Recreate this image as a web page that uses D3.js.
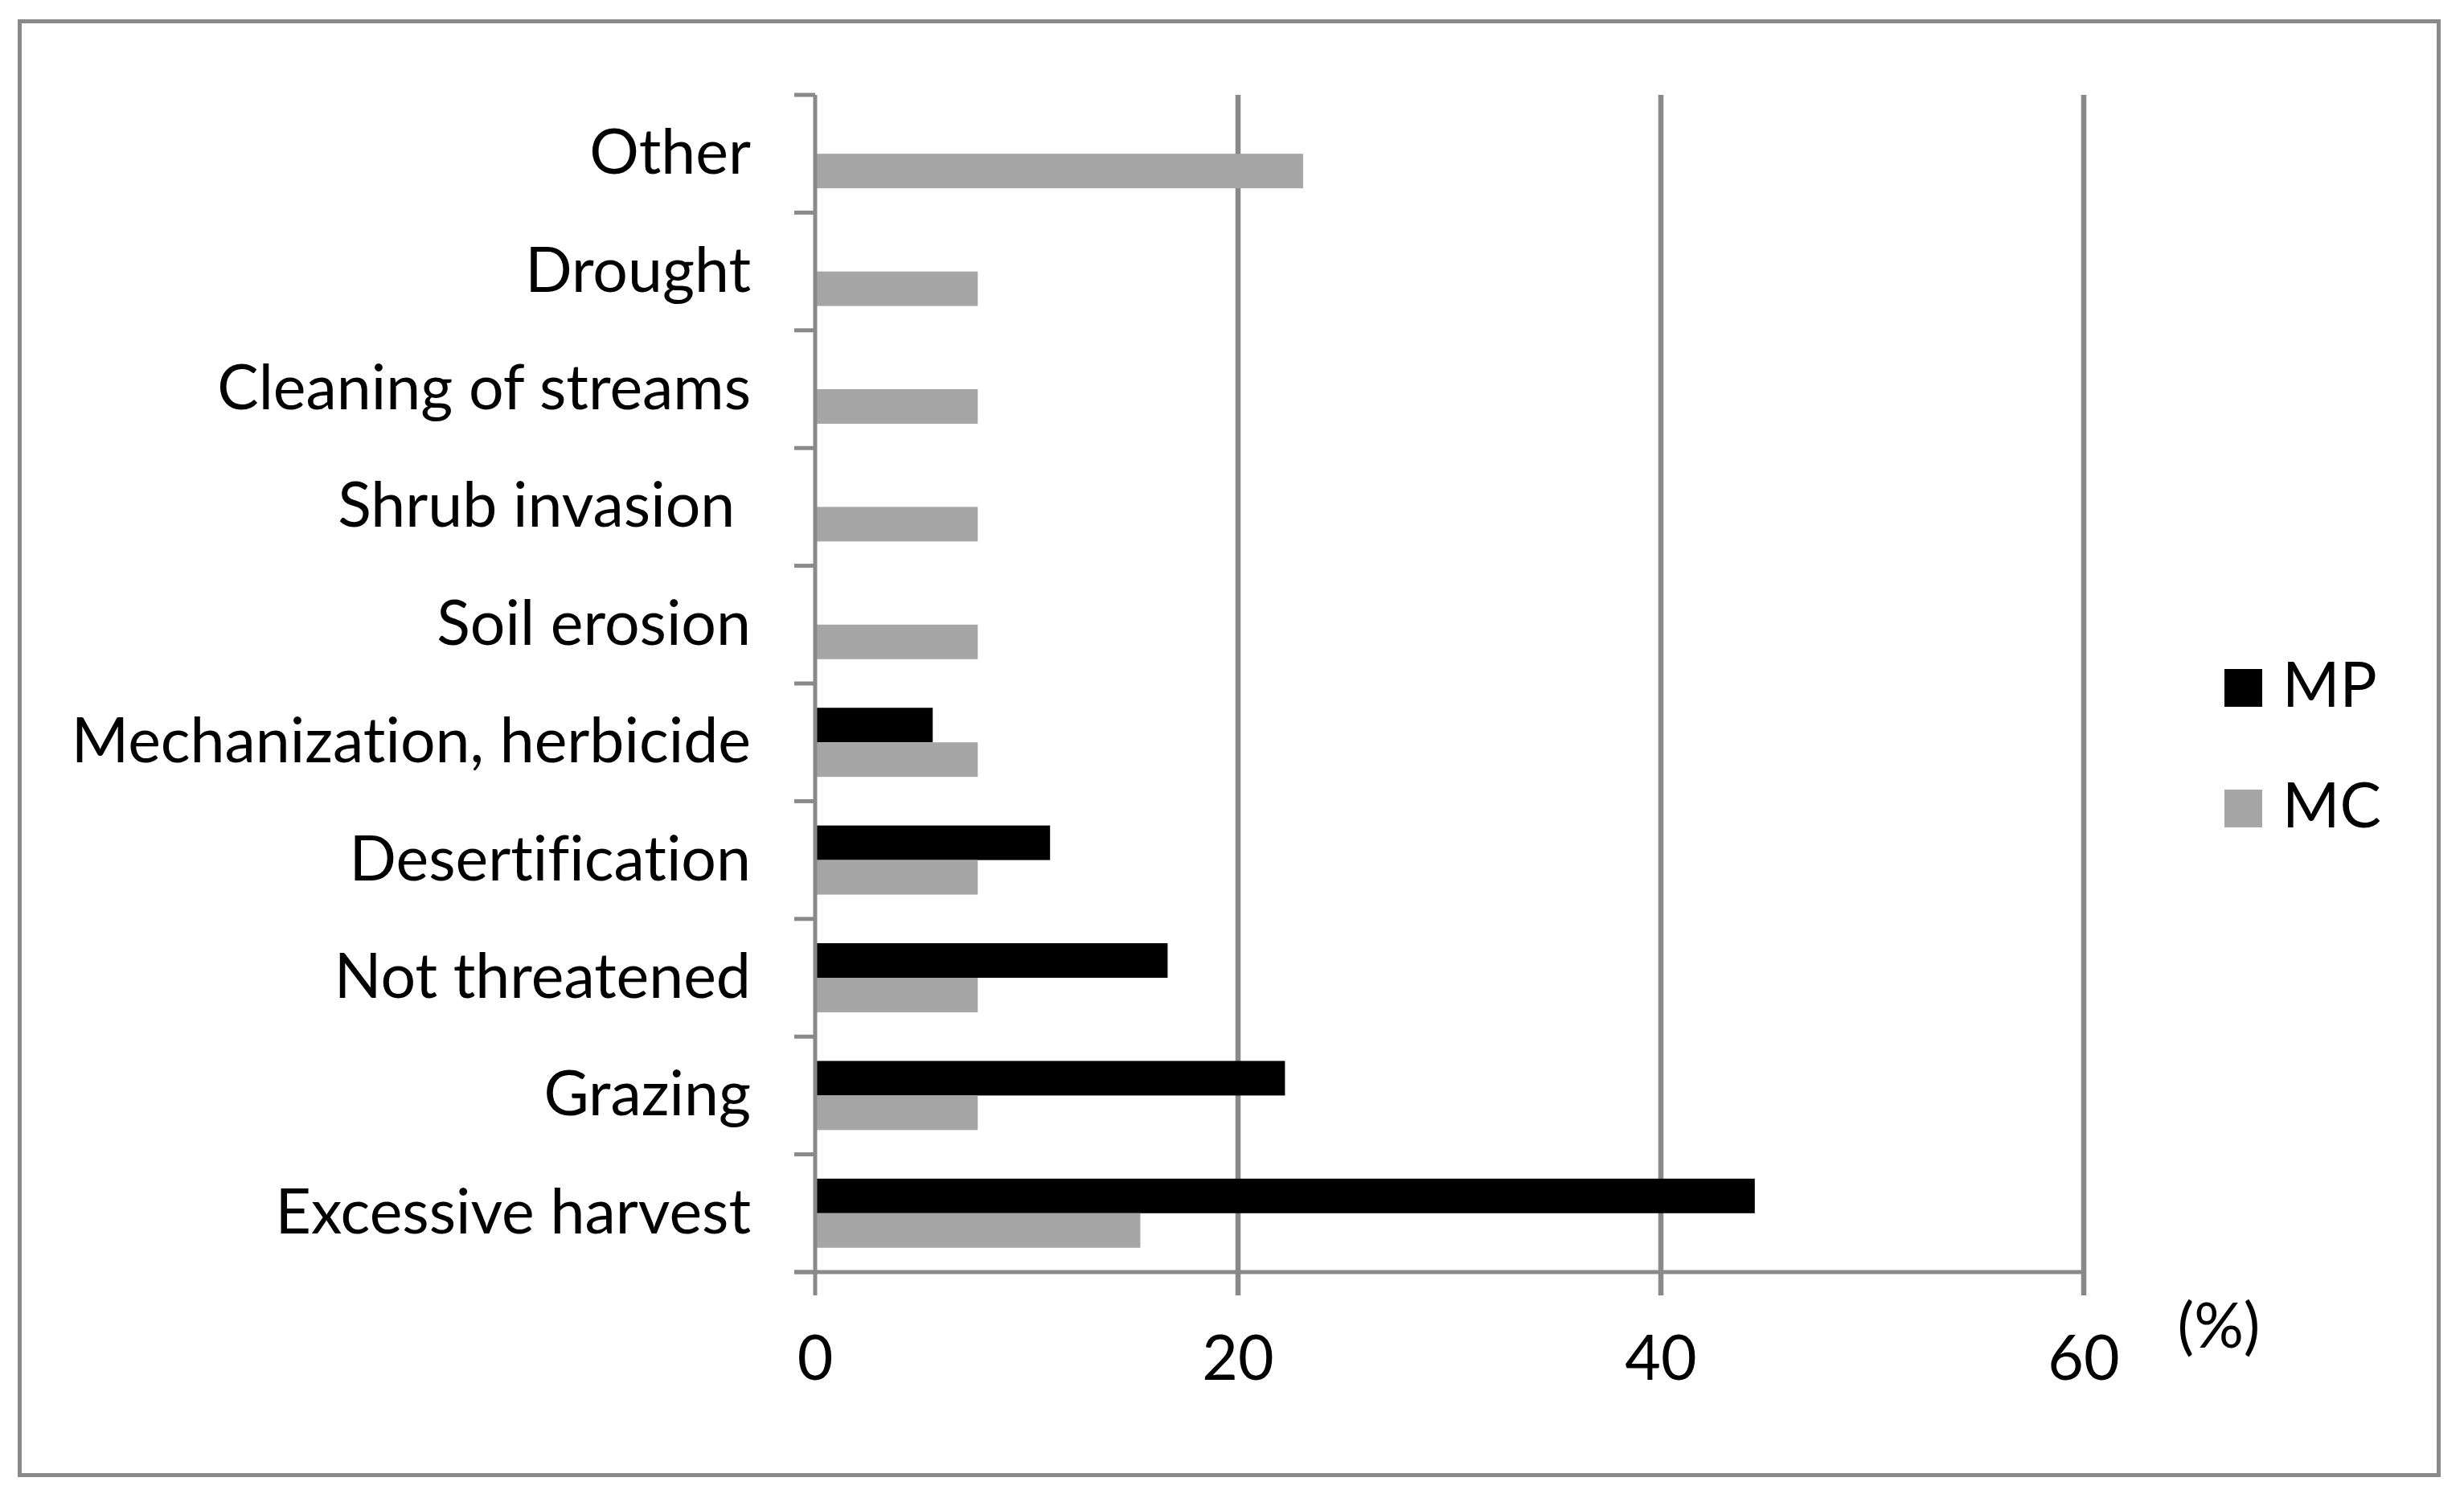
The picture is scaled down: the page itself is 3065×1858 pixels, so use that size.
<!DOCTYPE html>
<html><head><meta charset="utf-8">
<script src="https://cdn.jsdelivr.net/npm/d3@7"></script>
<style>html,body{margin:0;padding:0;background:#fff;} svg{display:block;} text{white-space:pre;font-variant-ligatures:none;font-feature-settings:"liga" 0;}</style>
</head><body>
<svg id="chart" width="3065" height="1858"></svg>
<script>
// Data (top to bottom as drawn)
const categories = ["Other","Drought","Cleaning of streams","Shrub invasion ","Soil erosion","Mechanization, herbicide","Desertification","Not threatened","Grazing","Excessive harvest"];
const seriesNames = ["MP","MC"];
const mpValues = [0,0,0,0,0,5.56,11.11,16.67,22.22,44.44];
const mcValues = [23.08,7.69,7.69,7.69,7.69,7.69,7.69,7.69,7.69,15.38];
const xTicks = [0,20,40,60];
const seriesColors = ["#000000","#a6a6a6"];

const svg = d3.select("#chart");
const FONT = "Lato, 'Open Sans', sans-serif";
const FS = 77;
const gray = "#898989";

// outer frame
svg.append("rect").attr("x",24.5).attr("y",26.5).attr("width",3009).attr("height",1808)
  .attr("fill","#fff").attr("stroke",gray).attr("stroke-width",5);

const x = d3.scaleLinear().domain([0,60]).range([1014,2592]);
const y = d3.scaleBand().domain(categories).range([118,1582]).padding(0);
const ys = d3.scaleBand().domain(seriesNames).range([0,y.bandwidth()]).paddingInner(0).paddingOuter(0.703);

// vertical gridlines (20,40,60) extending below axis as ticks
svg.append("g").selectAll("line").data(xTicks.filter(d=>d>0)).join("line")
  .attr("x1",d=>x(d)).attr("x2",d=>x(d)).attr("y1",118).attr("y2",1611)
  .attr("stroke",gray).attr("stroke-width",6.5);

// bars
const g = svg.append("g");
const rows = categories.map((c,i)=>({c, vals:[mpValues[i], mcValues[i]]}));
rows.forEach(r=>{
  r.vals.forEach((v,j)=>{
    if(v>0){
      g.append("rect").attr("x",x(0)).attr("y",y(r.c)+ys(seriesNames[j]))
        .attr("width",x(v)-x(0)).attr("height",ys.bandwidth()).attr("fill",seriesColors[j]);
    }
  });
});

// y axis line and category boundary ticks
svg.append("line").attr("x1",x(0)).attr("x2",x(0)).attr("y1",118).attr("y2",1611)
  .attr("stroke",gray).attr("stroke-width",5);
const bounds = categories.map(c=>y(c)).concat([y.range()[1]]);
svg.append("g").selectAll("line").data(bounds).join("line")
  .attr("x1",988).attr("x2",x(0)).attr("y1",d=>d).attr("y2",d=>d)
  .attr("stroke",gray).attr("stroke-width",5);
// x axis line
svg.append("line").attr("x1",988).attr("x2",x(60)).attr("y1",1582).attr("y2",1582)
  .attr("stroke",gray).attr("stroke-width",5);

// category labels
svg.append("g").selectAll("text").data(categories).join("text")
  .attr("x",934).attr("y",d=>y(d)+y.bandwidth()/2+25)
  .attr("text-anchor","end").attr("font-family",FONT).attr("font-size",FS).attr("fill","#000")
  .text(d=>d);

// x tick labels
svg.append("g").selectAll("text").data(xTicks).join("text")
  .attr("x",d=>x(d)).attr("y",1716).attr("text-anchor","middle")
  .attr("font-family",FONT).attr("font-size",FS).attr("fill","#000").text(d=>d);
svg.append("text").attr("x",2760).attr("y",1676).attr("text-anchor","middle")
  .attr("font-family",FONT).attr("font-size",FS).attr("fill","#000").text("(%)");

// legend
const leg = svg.append("g");
seriesNames.forEach((s,i)=>{
  const base = 879 + i*150;
  leg.append("rect").attr("x",2767).attr("y",base-47).attr("width",47).attr("height",47).attr("fill",seriesColors[i]);
  leg.append("text").attr("x",2839).attr("y",base).attr("font-family",FONT).attr("font-size",FS).attr("fill","#000").text(s);
});
</script>
</body></html>
